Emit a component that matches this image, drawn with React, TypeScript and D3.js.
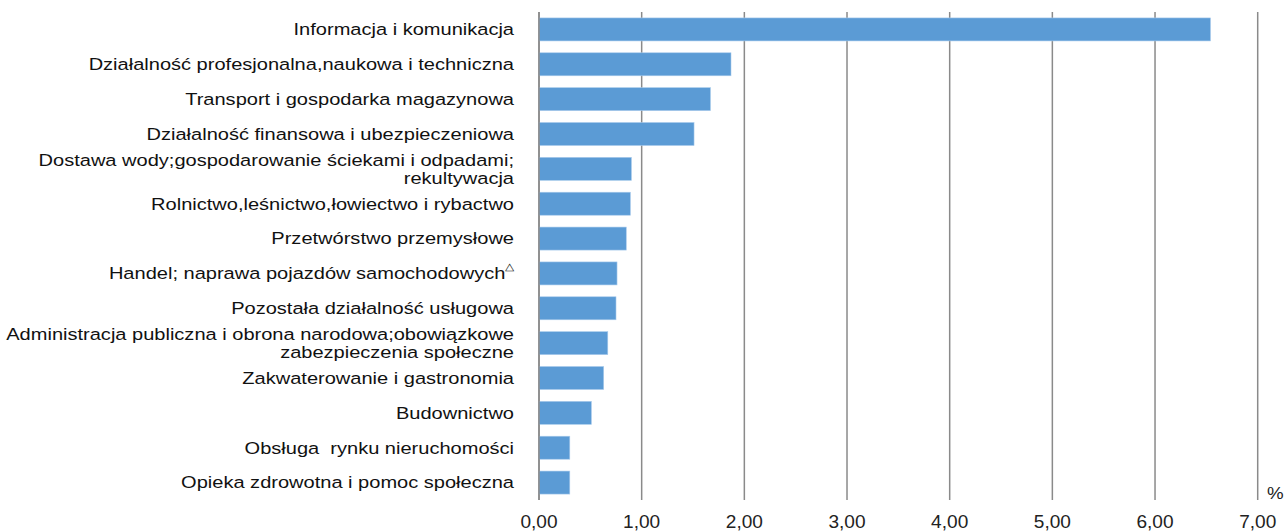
import React from "react";
import * as d3 from "d3";

const categories: string[][] = [
  ["Informacja i komunikacja"],
  ["Działalność profesjonalna,naukowa i techniczna"],
  ["Transport i gospodarka magazynowa"],
  ["Działalność finansowa i ubezpieczeniowa"],
  ["Dostawa wody;gospodarowanie ściekami i odpadami;", "rekultywacja"],
  ["Rolnictwo,leśnictwo,łowiectwo i rybactwo"],
  ["Przetwórstwo przemysłowe"],
  ["Handel; naprawa pojazdów samochodowych"],
  ["Pozostała działalność usługowa"],
  ["Administracja publiczna i obrona narodowa;obowiązkowe", "zabezpieczenia społeczne"],
  ["Zakwaterowanie i gastronomia"],
  ["Budownictwo"],
  ["Obsługa  rynku nieruchomości"],
  ["Opieka zdrowotna i pomoc społeczna"],
];
const values: number[] = [6.54, 1.87, 1.67, 1.51, 0.9, 0.89, 0.85, 0.76, 0.75, 0.67, 0.63, 0.51, 0.3, 0.3];
const ticks: number[] = [0, 1, 2, 3, 4, 5, 6, 7];
const markedIndex = 7;

const W = 1287;
const H = 531;
const left = 539;
const right = 1257.7;
const top = 12;
const bottom = 500;
const font = "Arial, 'Liberation Sans', sans-serif";

export default function App() {
  const x = d3.scaleLinear().domain([0, 7]).range([left, right]);
  const y = d3
    .scaleBand<number>()
    .domain(d3.range(categories.length))
    .range([top, bottom])
    .paddingInner(0.34)
    .paddingOuter(0.17);
  const fmt = (v: number) => v.toFixed(2).replace(".", ",");
  const lineH = 18;
  return (
    <svg
      width={W}
      height={H}
      style={{ position: "absolute", left: 0, top: 0, background: "#fff" }}
      fontFamily={font}
    >
      {ticks.map((t) => (
        <line
          key={"g" + t}
          x1={x(t)}
          x2={x(t)}
          y1={top}
          y2={bottom}
          stroke="#8a8a8a"
          strokeWidth={1.5}
        />
      ))}
      {values.map((v, i) => (
        <rect
          key={"b" + i}
          x={x(0)}
          y={y(i)!}
          width={x(v) - x(0)}
          height={y.bandwidth()}
          fill="#5b9bd5"
          stroke="#a9cbec"
          strokeWidth={0.6}
        />
      ))}
      <line x1={x(0)} x2={x(0)} y1={top} y2={bottom} stroke="#8a8a8a" strokeWidth={1.5} />
      <g transform="translate(514,0) scale(1.2,1)">
        {categories.map((lines, i) => {
          const cy = y(i)! + y.bandwidth() / 2;
          const n = lines.length;
          return (
            <text
              key={"c" + i}
              textAnchor="end"
              fontSize={16.7}
              fill="#111"
              style={{ whiteSpace: "pre" }}
            >
              {lines.map((l, k) => (
                <tspan
                  key={k}
                  x={0}
                  y={cy + (k - (n - 1) / 2) * lineH}
                  dy="0.35em"
                >
                  {l}
                </tspan>
              ))}
              {i === markedIndex ? (
                <tspan fontSize={10} dy="-0.9em">△</tspan>
              ) : null}
            </text>
          );
        })}
      </g>
      {ticks.map((t) => (
        <g key={"t" + t} transform={`translate(${x(t)},528) scale(1.09,1)`}>
          <text x={0} y={0} textAnchor="middle" fontSize={17.5} fill="#222">
            {fmt(t)}
          </text>
        </g>
      ))}
      <g transform="translate(1267,499) scale(1.1,1)">
        <text x={0} y={0} fontSize={17} fill="#222">
          %
        </text>
      </g>
    </svg>
  );
}
